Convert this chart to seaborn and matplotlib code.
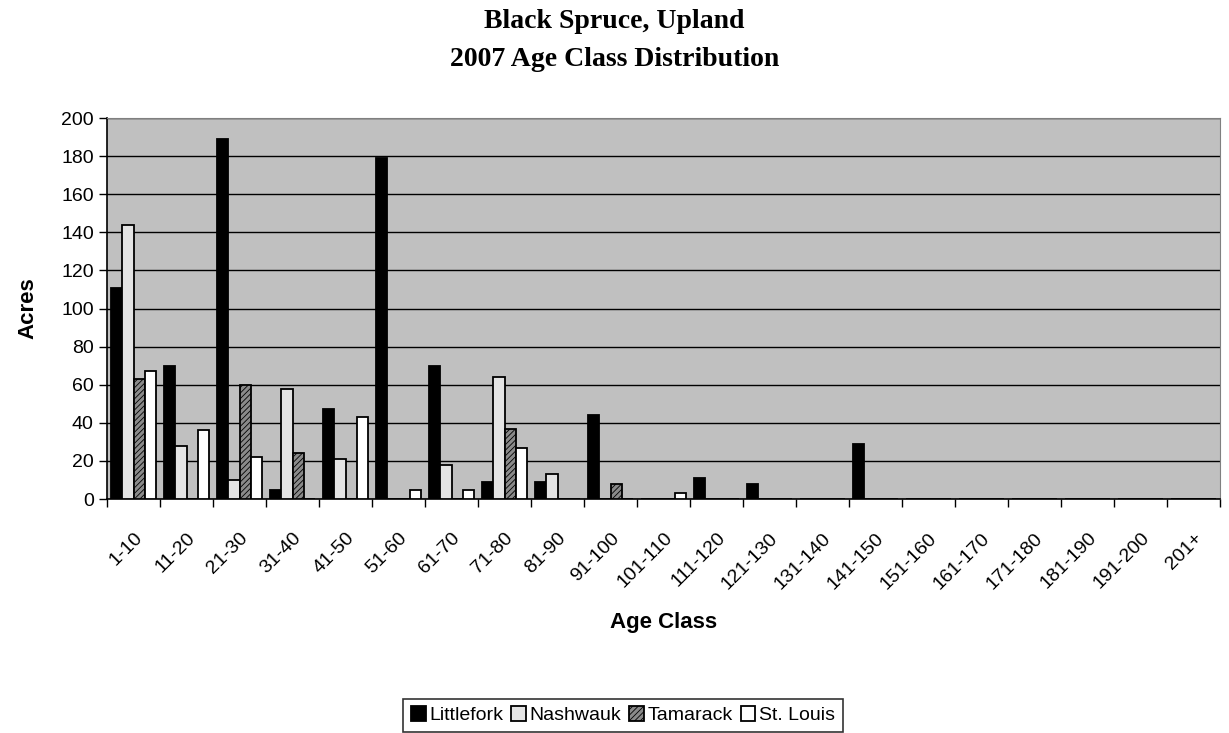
import pandas as pd
import numpy as np
import matplotlib.pyplot as plt
import seaborn as sns

# age classes and acres per area
age_classes = ['1-10', '11-20', '21-30', '31-40', '41-50', '51-60', '61-70', '71-80',
               '81-90', '91-100', '101-110', '111-120', '121-130', '131-140', '141-150',
               '151-160', '161-170', '171-180', '181-190', '191-200', '201+']
littlefork = [111, 70, 189, 5, 47, 179, 70, 9, 9, 44, 0, 11, 8, 0, 29, 0, 0, 0, 0, 0, 0]
nashwauk = [144, 28, 10, 58, 21, 0, 18, 64, 13, 0, 0, 0, 0, 0, 0, 0, 0, 0, 0, 0, 0]
tamarack = [63, 0, 60, 24, 0, 0, 0, 37, 0, 8, 0, 0, 0, 0, 0, 0, 0, 0, 0, 0, 0]
st_louis = [67, 36, 22, 0, 43, 5, 5, 27, 0, 0, 3, 0, 0, 0, 0, 0, 0, 0, 0, 0, 0]
areas = ['Littlefork', 'Nashwauk', 'Tamarack', 'St. Louis']

df = pd.DataFrame({'Age Class': age_classes, 'Littlefork': littlefork, 'Nashwauk': nashwauk,
                   'Tamarack': tamarack, 'St. Louis': st_louis})
long_df = df.melt(id_vars='Age Class', var_name='Area', value_name='Acres')

sns.set_style('white')
plt.rcParams['font.family'] = ['Liberation Sans', 'DejaVu Sans']
plt.rcParams['text.color'] = 'black'
plt.rcParams['axes.labelcolor'] = 'black'
plt.rcParams['xtick.color'] = 'black'
plt.rcParams['ytick.color'] = 'black'
plt.rcParams['hatch.linewidth'] = 0.6

fig = plt.figure(figsize=(12.29, 7.33), dpi=100)
ax = fig.add_axes([0.0871, 0.3192, 0.9056, 0.5198])

palette = {'Littlefork': '#000000', 'Nashwauk': '#e4e4e4', 'Tamarack': '#8a8a8a', 'St. Louis': '#ffffff'}
sns.barplot(data=long_df, x='Age Class', y='Acres', hue='Area', hue_order=areas,
            palette=palette, width=0.86, edgecolor='black', linewidth=1.3,
            saturation=1, legend=False, ax=ax, zorder=3)

# hatch for Tamarack
for patch in ax.containers[2]:
    patch.set_hatch('//////')

ax.set_facecolor('#c0c0c0')
ax.set_ylim(0, 200)
ax.set_xlim(-0.5, len(age_classes) - 0.5)
ax.set_yticks(np.arange(0, 201, 20))
ax.yaxis.grid(True, color='black', linewidth=1, zorder=1)
ax.set_axisbelow(True)
for s in ['top', 'right']:
    ax.spines[s].set_color('#808080')
for s in ['left', 'bottom']:
    ax.spines[s].set_color('black')
    ax.spines[s].set_linewidth(1.2)

ax.set_xticks(np.arange(len(age_classes)))
ax.set_xticklabels(age_classes, rotation=45, ha='right', va='top', rotation_mode='anchor')
ax.set_xticks(np.arange(len(age_classes) + 1) - 0.5, minor=True)
ax.tick_params(axis='x', which='major', length=0, pad=22, labelsize=14)
ax.tick_params(axis='x', which='minor', length=6, width=1, direction='out', color='black', bottom=True)
ax.tick_params(axis='y', length=6, width=1, direction='out', color='black', left=True, labelsize=14)

ax.set_xlabel('Age Class', fontsize=16, fontweight='bold', labelpad=14)
ax.set_ylabel('Acres', fontsize=16, fontweight='bold', labelpad=16)

fig.suptitle('Black Spruce, Upland\n2007 Age Class Distribution', y=0.988,
             fontsize=20, fontweight='bold', family='Liberation Serif', linespacing=1.7)

handles = [plt.Rectangle((0, 0), 1, 1, facecolor=palette[a], edgecolor='black', linewidth=1.3,
                         hatch='//////' if a == 'Tamarack' else None) for a in areas]
leg = fig.legend(handles, areas, loc='lower center', bbox_to_anchor=(0.507, -0.012), ncol=4,
                 frameon=True, fancybox=False, edgecolor='black', fontsize=14,
                 handlelength=0.75, handleheight=0.75, handletextpad=0.2, columnspacing=0.4,
                 borderpad=0.4, borderaxespad=0.5)
leg.get_frame().set_linewidth(1.2)

fig.savefig('out.png', dpi=100)
